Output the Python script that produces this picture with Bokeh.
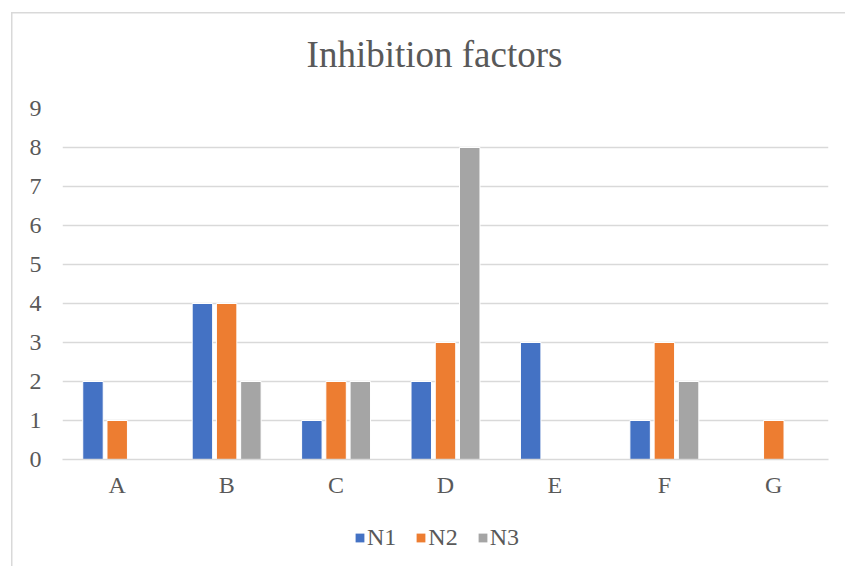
from bokeh.plotting import figure
from bokeh.layouts import column
from bokeh.models import (FactorRange, Range1d, ColumnDataSource, Legend, LegendItem,
                          FixedTicker, Label)
from bokeh.transform import dodge
from bokeh.embed import file_html
from bokeh.resources import INLINE

categories = ["A", "B", "C", "D", "E", "F", "G"]
n1 = [2, 4, 1, 2, 3, 1, 0]
n2 = [1, 4, 2, 3, 0, 3, 1]
n3 = [0, 2, 2, 8, 0, 2, 0]
series_names = ["N1", "N2", "N3"]
colors = ["#4472C4", "#ED7D31", "#A5A5A5"]
y_ticks = [0, 1, 2, 3, 4, 5, 6, 7, 8, 9]
title_text = "Inhibition factors"

FONT = "Liberation Serif"
TXT = "#595959"
GRID = "#D9D9D9"
W = 845
H_TITLE, H_MAIN, H_LEG = 96, 419, 51
FRAME_L, FRAME_R = 62, 828   # frames of the stacked figures are aligned by the column


def blank_fig(h, y0):
    f = figure(width=W, height=h, x_range=Range1d(FRAME_L, FRAME_R), y_range=Range1d(y0 + h, y0),
               output_backend="svg", toolbar_location=None,
               x_axis_location=None, y_axis_location=None, min_border=0)
    f.grid.visible = False
    f.outline_line_color = None
    f.background_fill_color = None
    f.border_fill_color = None
    return f


# ---- title strip ----
pt = blank_fig(H_TITLE, 0)
pt.add_layout(Label(x=434, y=54, text=title_text, text_align="center",
                    text_baseline="alphabetic", text_font=FONT, text_font_size="37px",
                    text_color=TXT))

# ---- main chart ----
p = figure(width=W, height=H_MAIN, x_range=FactorRange(*categories), y_range=Range1d(0, 9),
           output_backend="svg", toolbar_location=None,
           min_border_left=FRAME_L, min_border_right=W - FRAME_R, min_border_top=12,
           min_border_bottom=56)
p.outline_line_color = None
p.background_fill_color = None
p.border_fill_color = None

p.xgrid.grid_line_color = None
p.ygrid.grid_line_color = GRID
p.ygrid.grid_line_width = 1.3
p.yaxis.ticker = FixedTicker(ticks=y_ticks)

p.yaxis.axis_line_color = None
p.yaxis.major_tick_line_color = None
p.yaxis.minor_tick_line_color = None
p.yaxis.major_label_standoff = 15
p.yaxis.major_label_text_font = FONT
p.yaxis.major_label_text_font_size = "24px"
p.yaxis.major_label_text_color = TXT

p.xaxis.axis_line_color = GRID
p.xaxis.axis_line_width = 1.3
p.xaxis.major_tick_line_color = None
p.xaxis.minor_tick_line_color = None
p.xaxis.major_label_standoff = 6
p.xaxis.major_label_text_font = FONT
p.xaxis.major_label_text_font_size = "24px"
p.xaxis.major_label_text_color = TXT

offsets = [-0.2215, 0.0, 0.2215]
all_vals = [n1, n2, n3]
for name, vals, col, off in zip(series_names, all_vals, colors, offsets):
    cats = [c for c, v in zip(categories, vals) if v > 0]
    vs = [v for v in vals if v > 0]
    src = ColumnDataSource(dict(cat=cats, val=vs))
    p.vbar(x=dodge("cat", off, range=p.x_range), top="val", bottom=0, width=0.187,
           source=src, fill_color=col, line_color="white", line_width=1)

# ---- legend strip (keys come from hidden copies of the series) ----
pl = blank_fig(H_LEG, H_TITLE + H_MAIN)
items = []
for name, vals, col in zip(series_names, all_vals, colors):
    r = pl.vbar(x=list(range(len(vals))), top=vals, width=0.5, fill_color=col,
                line_color=None, visible=False)
    items.append(LegendItem(label=name, renderers=[r]))
legend = Legend(items=items, orientation="horizontal", location=(354 - FRAME_L, 15),
                glyph_width=11, glyph_height=11, label_standoff=2, spacing=19,
                padding=0, margin=0, border_line_color=None, background_fill_alpha=0,
                inactive_fill_alpha=0,
                label_text_font=FONT, label_text_font_size="24px", label_text_color=TXT)
pl.add_layout(legend, "center")

layout = column(pt, p, pl, spacing=0)
layout.styles = {
    "background-color": "white",
    "background-image": "linear-gradient(#D9D9D9, #D9D9D9), linear-gradient(#D9D9D9, #D9D9D9)",
    "background-position": "10.5px 11.5px, 10.5px 11.5px",
    "background-size": "1.5px 100%, 100% 1.5px",
    "background-repeat": "no-repeat",
}

open("out.html", "w").write(file_html(layout, INLINE))
